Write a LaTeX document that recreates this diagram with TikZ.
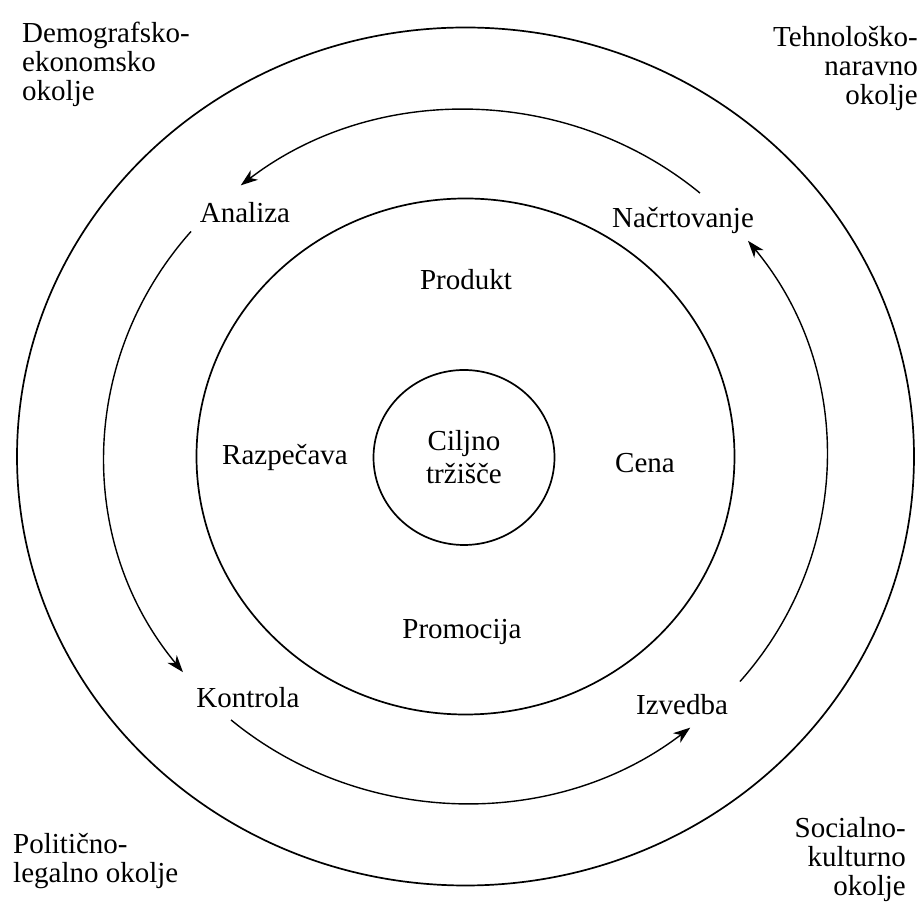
\documentclass[tikz,border=0pt]{standalone}
\usepackage{fontspec}
\setmainfont{Liberation Serif}
\usetikzlibrary{arrows.meta,shapes.geometric,calc}
\begin{document}
\begin{tikzpicture}[x=1pt,y=1pt,
  ring/.style={line width=1.7pt},
  cyc/.style={line width=1.4pt,-{Stealth[length=17pt,width=12pt,inset=5pt]}},
  lbl/.style={font=\fontsize{29}{29}\selectfont, inner sep=0pt},
]
\useasboundingbox (0,0) rectangle (922,905);
\coordinate (c) at (465.5,448.5);
% rings
\draw[ring] (c) ellipse [x radius=448.5pt, y radius=429pt];
\draw[ring] (c) ellipse [x radius=269pt, y radius=258pt];
\node[ring, draw, ellipse, minimum width=181pt, minimum height=175pt, inner sep=0pt,
      align=center, font=\fontsize{29}{33}\selectfont] (target) at (464,447.5) {Ciljno\\tržišče};
% environment labels
\node[lbl, align=left, anchor=north west] (demo) at (22,883) {Demografsko-\\ekonomsko\\okolje};
\node[lbl, align=right, anchor=north east] (tehno) at (918,879) {Tehnološko-\\naravno\\okolje};
\node[lbl, align=left, anchor=north west] (polit) at (13,72) {Politično-\\legalno okolje};
\node[lbl, align=right, anchor=north east] (soc) at (906,88) {Socialno-\\kulturno\\okolje};
% process labels
\node[lbl, anchor=base] (anal) at (245,682) {Analiza};
\node[lbl, anchor=base] (nacrt) at (683,677) {Načrtovanje};
\node[lbl, anchor=base] (kontr) at (248,197) {Kontrola};
\node[lbl, anchor=base] (izv) at (682,190) {Izvedba};
% marketing mix labels
\node[lbl, anchor=base] (prod) at (466,615) {Produkt};
\node[lbl, anchor=base] (razp) at (285,440) {Razpečava};
\node[lbl, anchor=base] (cena) at (645,432) {Cena};
\node[lbl, anchor=base] (prom) at (462,266) {Promocija};
% cycle arcs
\coordinate (s1) at ($(c)+(49.5:361pt and 346.5pt)$);
\coordinate (s2) at ($(c)+(139.5:361pt and 346.5pt)$);
\coordinate (s3) at ($(c)+(229.5:361pt and 346.5pt)$);
\coordinate (s4) at ($(c)+(319.5:361pt and 346.5pt)$);
\draw[cyc] (s1) arc[start angle=49.5, end angle=128.5, x radius=361pt, y radius=346.5pt];
\draw[cyc] (s2) arc[start angle=139.5, end angle=218.5, x radius=361pt, y radius=346.5pt];
\draw[cyc] (s3) arc[start angle=229.5, end angle=308.5, x radius=361pt, y radius=346.5pt];
\draw[cyc] (s4) arc[start angle=319.5, end angle=398.5, x radius=361pt, y radius=346.5pt];
\end{tikzpicture}
\end{document}
